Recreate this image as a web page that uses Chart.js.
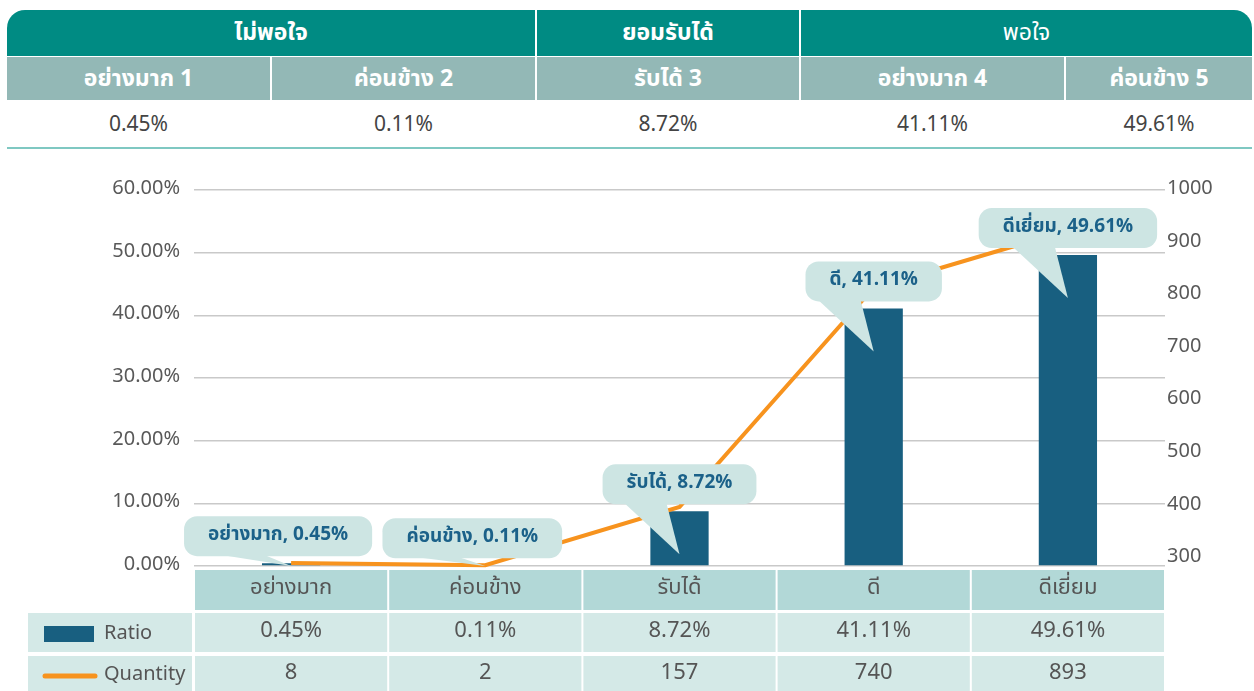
<!DOCTYPE html>
<html>
<head>
<meta charset="utf-8">
<script src="https://cdn.jsdelivr.net/npm/chart.js@4.4.1/dist/chart.umd.min.js"></script>
<style>
  body { margin: 0; background: #fff; font-family: "Noto Sans Thai", "Noto Sans", "DejaVu Sans", sans-serif; }
  #summary {
    position: absolute; left: 7px; top: 10px; width: 1245px;
    display: grid;
    grid-template-columns: 263px 263px 262px 263px 186px;
    grid-template-rows: 46px 43px 46px;
    column-gap: 2px; row-gap: 1px;
    border-bottom: 2px solid #7fc8c2;
  }
  #summary div { display: flex; align-items: center; justify-content: center; font-size: 23px; }
  .grp { background: #008b83; color: #fff; font-weight: bold; }
  .sub { background: #93b8b6; color: #fff; font-weight: bold; }
  #summary .val { background: #fff; color: #444; font-size: 21px; }
  #wrap { position: absolute; left: 0; top: 150px; width: 1254px; height: 541px; }
</style>
</head>
<body>
<div id="summary"></div>
<div id="wrap"><canvas id="chart-satisfaction"></canvas></div>
<script>
// header table
const groups = ["ไม่พอใจ", "ยอมรับได้", "พอใจ"];
const groupSpans = [2, 1, 2];
const levels = ["อย่างมาก 1", "ค่อนข้าง 2", "รับได้ 3", "อย่างมาก 4", "ค่อนข้าง 5"];

// chart data
const categories = ["อย่างมาก", "ค่อนข้าง", "รับได้", "ดี", "ดีเยี่ยม"];
const ratio = [0.45, 0.11, 8.72, 41.11, 49.61];
const quantity = [8, 2, 157, 740, 893];
const rightTicks = [300, 400, 500, 600, 700, 800, 900, 1000];

const FONT = '"Noto Sans Thai", "Noto Sans", "DejaVu Sans", sans-serif';
const BAR_COLOR = "#185f80";
const LINE_COLOR = "#f7931e";

const summary = document.getElementById("summary");
groups.forEach((g, i) => {
  const d = document.createElement("div");
  d.className = "grp";
  d.textContent = g;
  d.style.gridColumn = "span " + groupSpans[i];
  if (i === 0) d.style.borderTopLeftRadius = "18px";
  if (i === groups.length - 1) { d.style.borderTopRightRadius = "18px"; d.style.fontWeight = "normal"; }
  summary.appendChild(d);
});
levels.forEach(l => {
  const d = document.createElement("div");
  d.className = "sub";
  d.textContent = l;
  summary.appendChild(d);
});
ratio.forEach(r => {
  const d = document.createElement("div");
  d.className = "val";
  d.textContent = r.toFixed(2) + "%";
  summary.appendChild(d);
});

// speech bubble labels above bars
const callouts = {
  id: "callouts",
  afterDatasetsDraw(chart) {
    const { ctx, chartArea } = chart;
    const bars = chart.getDatasetMeta(0).data;
    ctx.save();
    ctx.font = "bold 19px " + FONT;
    bars.forEach((bar, i) => {
      const text = categories[i] + ", " + ratio[i].toFixed(2) + "%";
      const w = ctx.measureText(text).width + 48;
      const h = 40;
      const tipY = Math.min(bar.y + 43, chartArea.bottom);
      const bottom = bar.y - 7;
      const cx = bar.x - (tipY - bottom < 20 ? 13 : 0);
      ctx.fillStyle = "#cde5e3";
      ctx.beginPath();
      ctx.moveTo(cx - 55, bottom - 1);
      ctx.lineTo(bar.x, tipY);
      ctx.lineTo(cx - 13, bottom - 1);
      ctx.closePath();
      ctx.fill();
      ctx.beginPath();
      ctx.roundRect(cx - w / 2, bottom - h, w, h, 13);
      ctx.fill();
      ctx.fillStyle = "#1b6189";
      ctx.textAlign = "center";
      ctx.textBaseline = "middle";
      ctx.fillText(text, cx, bottom - h / 2);
    });
    ctx.restore();
  }
};

// data table under the plot
const dataTable = {
  id: "dataTable",
  afterDraw(chart) {
    const { ctx, chartArea } = chart;
    const xs = chart.scales.x;
    const half = (xs.right - xs.left) / categories.length / 2;
    const rows = [
      { top: chartArea.bottom + 4, h: 40 },
      { top: chartArea.bottom + 47, h: 39 },
      { top: chartArea.bottom + 90, h: 40 }
    ];
    ctx.save();
    ctx.textAlign = "center";
    ctx.textBaseline = "middle";
    categories.forEach((c, i) => {
      const x = xs.getPixelForValue(i);
      const l = x - half + 1, r = x + half - 1;
      ctx.fillStyle = "#b2d8d7";
      ctx.fillRect(l, rows[0].top, r - l, rows[0].h);
      ctx.fillStyle = "#d4e9e7";
      ctx.fillRect(l, rows[1].top, r - l, rows[1].h);
      ctx.fillRect(l, rows[2].top, r - l, rows[2].h);
      ctx.fillStyle = "#555";
      ctx.font = "22px " + FONT;
      ctx.fillText(c, x, rows[0].top + rows[0].h / 2);
      ctx.fillText(ratio[i].toFixed(2) + "%", x, rows[1].top + rows[1].h / 2);
      ctx.fillText(String(quantity[i]), x, rows[2].top + rows[2].h / 2 - 1);
    });
    // legend cells
    const ll = chartArea.left - 166, lr = chartArea.left - 2;
    ctx.fillStyle = "#d4e9e7";
    ctx.fillRect(ll, rows[1].top, lr - ll, rows[1].h);
    ctx.fillRect(ll, rows[2].top, lr - ll, rows[2].h);
    ctx.fillStyle = BAR_COLOR;
    ctx.fillRect(ll + 16, rows[1].top + 13, 50, 16);
    ctx.strokeStyle = LINE_COLOR;
    ctx.lineWidth = 5;
    ctx.lineCap = "round";
    ctx.beginPath();
    ctx.moveTo(ll + 17, rows[2].top + 20);
    ctx.lineTo(ll + 67, rows[2].top + 20);
    ctx.stroke();
    ctx.fillStyle = "#555";
    ctx.textAlign = "left";
    ctx.font = "20px " + FONT;
    ctx.fillText(chart.data.datasets[0].label, ll + 76, rows[1].top + rows[1].h / 2 + 2);
    ctx.fillText(chart.data.datasets[1].label, ll + 76, rows[2].top + 20);
    ctx.restore();
  }
};

new Chart(document.getElementById("chart-satisfaction"), {
  data: {
    labels: categories,
    datasets: [
      {
        type: "bar",
        label: "Ratio",
        data: ratio,
        yAxisID: "y",
        backgroundColor: BAR_COLOR,
        barPercentage: 0.6,
        categoryPercentage: 0.5,
        order: 2
      },
      {
        type: "line",
        label: "Quantity",
        data: quantity,
        yAxisID: "y2",
        borderColor: LINE_COLOR,
        borderWidth: 4,
        pointRadius: 0,
        tension: 0,
        clip: false,
        order: 1
      }
    ]
  },
  plugins: [callouts, dataTable],
  options: {
    responsive: true,
    maintainAspectRatio: false,
    animation: false,
    layout: { padding: { top: 40, bottom: 125, left: 0, right: 0 } },
    plugins: {
      legend: { display: false },
      tooltip: { enabled: false }
    },
    scales: {
      x: { display: false },
      y: {
        position: "left",
        min: 0,
        max: 60,
        ticks: {
          stepSize: 10,
          padding: 14,
          color: "#595959",
          font: { family: FONT, size: 20 },
          callback: v => v.toFixed(2) + "%"
        },
        grid: { color: "#c9c9c9", lineWidth: 1.5, drawTicks: false },
        border: { display: false },
        afterFit: s => { s.width = 194; }
      },
      y2: { display: false, min: 0, max: 1000 },
      yR: {
        position: "right",
        min: 285,
        max: 1000,
        afterBuildTicks: s => { s.ticks = rightTicks.map(v => ({ value: v })); },
        ticks: {
          padding: 2,
          color: "#595959",
          font: { family: FONT, size: 20 }
        },
        grid: { display: false, drawTicks: false, tickLength: 0 },
        border: { display: false },
        afterFit: s => { s.width = 89; }
      }
    }
  }
});
</script>
</body>
</html>
